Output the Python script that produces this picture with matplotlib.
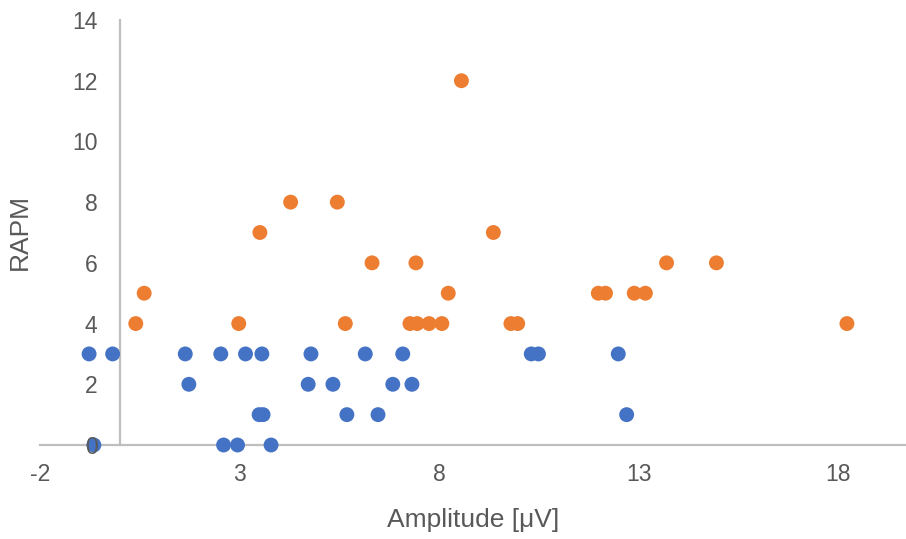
import matplotlib
matplotlib.use("Agg")
import matplotlib.pyplot as plt

# Series 1 (blue)
blue_x = [-0.77, -0.18, 1.64, 2.53, 3.15, 3.56, 4.79, 6.15, 7.09, 10.31, 10.49, 12.49,
          1.73, 4.72, 5.34, 6.84, 7.32,
          3.49, 3.59, 5.69, 6.47, 12.70,
          -0.65, 2.60, 2.95, 3.79]
blue_y = [3, 3, 3, 3, 3, 3, 3, 3, 3, 3, 3, 3,
          2, 2, 2, 2, 2,
          1, 1, 1, 1, 1,
          0, 0, 0, 0]

# Series 2 (orange)
orange_x = [8.56, 4.28, 5.45, 3.51, 9.36, 6.32, 7.42, 13.70, 14.95,
            0.61, 8.23, 11.99, 12.17, 12.89, 13.17,
            0.40, 2.98, 5.65, 7.27, 7.45, 7.75, 8.07, 9.80, 9.97, 18.22]
orange_y = [12, 8, 8, 7, 7, 6, 6, 6, 6,
            5, 5, 5, 5, 5, 5,
            4, 4, 4, 4, 4, 4, 4, 4, 4, 4]

x_ticks = [-2, 3, 8, 13, 18]
y_ticks = [0, 2, 4, 6, 8, 10, 12, 14]
x_label = "Amplitude [μV]"
y_label = "RAPM"

plt.rcParams['font.family'] = ['Liberation Sans', 'DejaVu Sans']
plt.rcParams['axes.unicode_minus'] = False

fig = plt.figure(figsize=(9.06, 5.39), dpi=100)
ax = fig.add_axes([40/906, 94/539, 866/906, 425/539])

text_color = "#595959"
axis_color = "#BFBFBF"

ax.scatter(blue_x, blue_y, s=115, color="#4472C4", edgecolors="none", zorder=2, clip_on=False)
ax.scatter(orange_x, orange_y, s=115, color="#ED7D31", edgecolors="none", zorder=2, clip_on=False)

ax.set_xlim(-2, 19.7)
ax.set_ylim(0, 14)

for s in ["top", "right"]:
    ax.spines[s].set_visible(False)
ax.spines["left"].set_position(("data", 0))
ax.spines["bottom"].set_position(("data", 0))
for s in ["left", "bottom"]:
    ax.spines[s].set_color(axis_color)
    ax.spines[s].set_linewidth(1.6)
    ax.spines[s].set_zorder(1)
ax.xaxis.set_zorder(3)
ax.yaxis.set_zorder(3)

ax.set_xticks(x_ticks)
ax.set_yticks(y_ticks)
ax.tick_params(axis="both", length=0, labelsize=16.5, labelcolor=text_color)
ax.tick_params(axis="y", pad=16)
ax.tick_params(axis="x", pad=13)

ax.set_xlabel(x_label, fontsize=19, color=text_color)
ax.set_ylabel(y_label, fontsize=19, color=text_color)
ax.xaxis.set_label_coords(0.5, -0.148)
ax.yaxis.set_label_coords(-0.009, 0.5)

fig.savefig("out.png", dpi=100)
